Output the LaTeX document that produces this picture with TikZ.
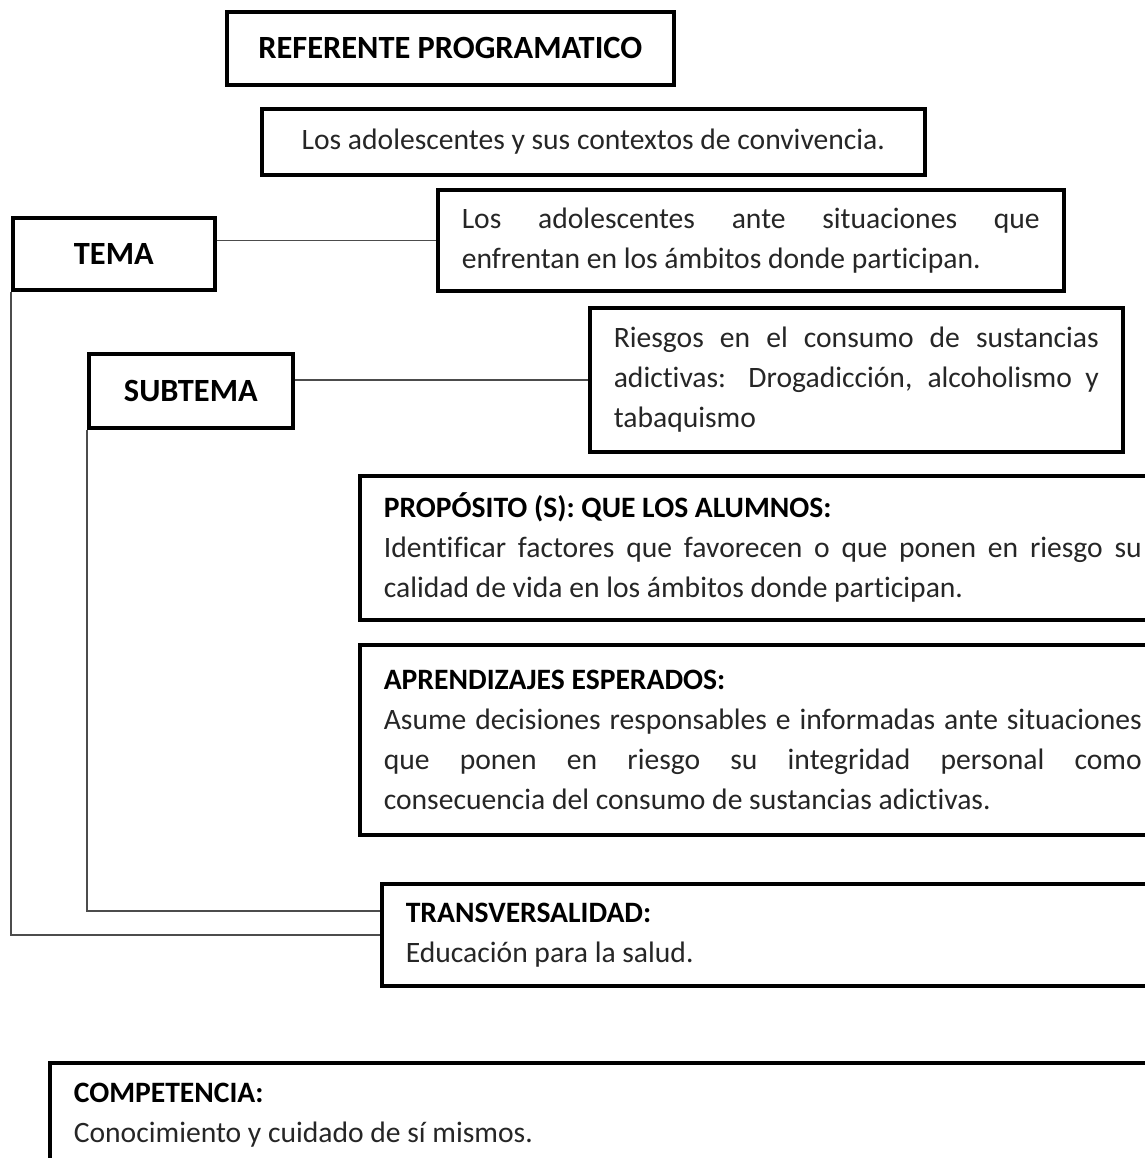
\documentclass[tikz,border=0pt]{standalone}
\usepackage{fontspec}
\setmainfont{Carlito}[Ligatures=NoCommon]
\tikzset{
    box/.style={draw,line width=1.8pt,fill=white,anchor=north west,inner xsep=12pt,inner ysep=0pt,text=black!85,font=\fontsize{14.8}{20}\selectfont},
    title/.style={box,text=black,font=\fontsize{16.2}{20}\selectfont\bfseries},
    textbox/.style={box,text width=#1,align=left,execute at begin node={\spaceskip=0pt\xspaceskip=0pt\relax}},
    link/.style={line width=0.8pt,black!70}
}
\def\jline#1{\makebox[\linewidth][s]{#1}}
\def\head#1{{\color{black}\bfseries #1}}

\begin{document}
\begin{tikzpicture}[x=0.5pt,y=-0.5pt]
  \useasboundingbox (0,0) rectangle (1145,1158);
  \clip (0,0) rectangle (1145,1158);

  % Titles
  \node[title,minimum width=223.5pt,minimum height=36.5pt] (ref) at (225,10) {REFERENTE PROGRAMATICO};
  \node[box,minimum width=331.5pt,minimum height=33pt] (ctx) at (260,107) {Los adolescentes y sus contextos de convivencia.};
  \node[title,minimum width=101pt,minimum height=36pt] (tema) at (11,216) {TEMA};
  \node[title,minimum width=102pt,minimum height=37pt] (subtema) at (87,352) {SUBTEMA};

  % Text boxes
  \node[textbox=289pt,minimum height=50.5pt] (ambitos) at (436,188)
    {\jline{Los adolescentes ante situaciones que}\\enfrentan en los ámbitos donde participan.};
  \node[textbox=242.5pt,minimum height=72pt] (riesgos) at (588,306)
    {\jline{Riesgos en el consumo de sustancias}\\\jline{adictivas: Drogadicción, alcoholismo y}\\tabaquismo};
  \node[textbox=379pt,minimum height=72pt] (proposito) at (358,474)
    {\head{PROPÓSITO (S): QUE LOS ALUMNOS:}\\\jline{Identificar factores que favorecen o que ponen en riesgo su}\\calidad de vida en los ámbitos donde participan.};
  \node[textbox=379pt,minimum height=95pt] (aprend) at (358,643)
    {\head{APRENDIZAJES ESPERADOS:}\\\jline{Asume decisiones responsables e informadas ante situaciones}\\\jline{que ponen en riesgo su integridad personal como}\\consecuencia del consumo de sustancias adictivas.};
  \node[textbox=379pt,minimum height=51pt] (transv) at (380,882)
    {\head{TRANSVERSALIDAD:}\\Educación para la salud.};
  \node[textbox=560pt,minimum height=52pt] (compet) at (48,1061)
    {\head{COMPETENCIA:}\\Conocimiento y cuidado de sí mismos.};

  % Connectors
  \draw[link] (tema.east |- ambitos.west) -- (ambitos.west);
  \draw[link] (subtema.east |- riesgos.west) -- (riesgos.west);
  \draw[link] (tema.south west) |- (transv.west);
  \draw[link] (subtema.south west) |- ([yshift=12pt]transv.west);
\end{tikzpicture}
\end{document}
